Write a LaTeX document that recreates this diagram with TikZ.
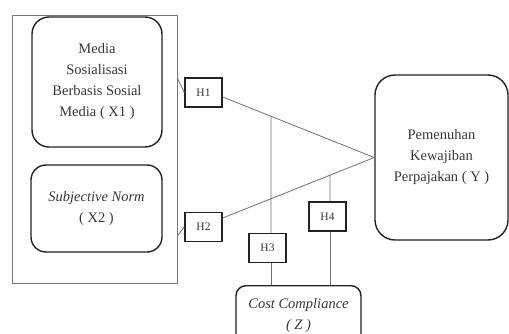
\documentclass[tikz,border=0pt]{standalone}
\usepackage{fontspec}
\setmainfont{Liberation Serif}
\usetikzlibrary{positioning, calc}
\definecolor{frameGray}{RGB}{120, 120, 120}
\definecolor{lineGray}{RGB}{110, 110, 110}
\definecolor{boxBlack}{RGB}{35, 35, 35}
\definecolor{textGray}{RGB}{55, 55, 55}

\begin{document}
\begin{tikzpicture}[x=1pt, y=-1pt,
            varbox/.style={rectangle, draw=boxBlack, line width=1.4pt, fill=white, align=center,
                           text=textGray, font=\fontsize{14.5}{21}\selectfont},
            hbox/.style={rectangle, draw=boxBlack, line width=1.4pt, fill=white, minimum width=37pt,
                         minimum height=29pt, inner sep=0pt, text=textGray, font=\fontsize{11.5}{13}\selectfont},
            link/.style={draw=lineGray, line width=0.8pt}
        ]
            \useasboundingbox (0,0) rectangle (509,334);
            \clip (0,0) rectangle (509,334);

            \node[draw=frameGray, line width=0.7pt, minimum width=165pt, minimum height=268pt] (frame) at (94.5,149) {};
            \node[varbox, rounded corners=17pt, minimum width=130pt, minimum height=130pt] (x1) at (97,82)
                {Media\\Sosialisasi\\Berbasis Sosial\\Media ( X1 )};
            \node[varbox, rounded corners=15pt, minimum width=131pt, minimum height=87pt] (x2) at (96.5,208.5)
                {\textit{Subjective Norm}\\( X2 )};
            \node[varbox, rounded corners=20pt, minimum width=133pt, minimum height=165pt] (y) at (441.5,157.5)
                {Pemenuhan\\Kewajiban\\Perpajakan ( Y )};
            \node[varbox, rounded corners=10pt, minimum width=125pt, minimum height=60pt, anchor=north] (z) at (298.5,285)
                {\textit{Cost Compliance}\\\textit{( Z )}};

            % Hypotheses
            \node[hbox] (h1) at (203.5,92.5) {H1};
            \node[hbox] (h2) at (203.5,227) {H2};
            \node[hbox] (h3) at (267.5,248) {H3};
            \node[hbox] (h4) at (327.5,216.5) {H4};

            \coordinate (f1) at (frame.east |- 0,78);
            \coordinate (f2) at (frame.east |- 0,236);
            \coordinate (h1out) at ([yshift=-4.5pt]h1.east);
            \coordinate (h2out) at ([yshift=9pt]h2.east);
            \coordinate (z3) at (271,285);
            \coordinate (z4) at (330,285);
            \coordinate (m1) at (intersection of h1out--y.west and z3--{$(z3)+(0,-200)$});
            \coordinate (m2) at (intersection of h2out--y.west and z4--{$(z4)+(0,-200)$});

            \draw[link] (f1) -- (h1.west);
            \draw[link] (f2) -- (h2.west);
            \draw[link] (h1out) -- (y.west);
            \draw[link] (h2out) -- (y.west);
            \draw[link] (z3) -- (z3 |- h3.south);
            \draw[link] (z3 |- h3.north) -- (m1);
            \draw[link] (z4) -- (z4 |- h4.south);
            \draw[link] (z4 |- h4.north) -- (m2);
        \end{tikzpicture}
\end{document}
